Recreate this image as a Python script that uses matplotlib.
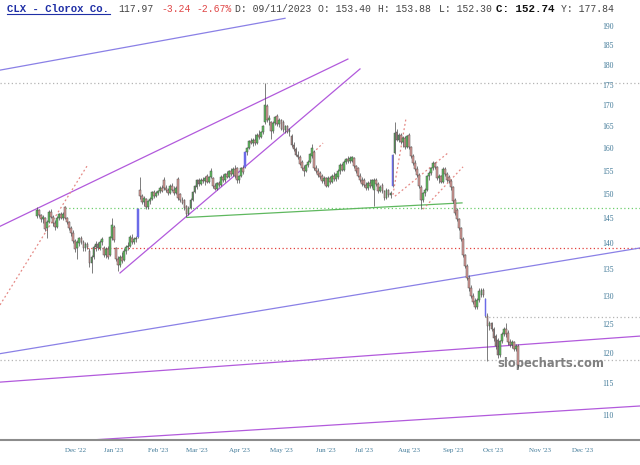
import numpy as np
import pandas as pd
import matplotlib
matplotlib.use("Agg")
import matplotlib.pyplot as plt
from matplotlib.lines import Line2D
from matplotlib.ticker import FixedLocator, FuncFormatter, NullLocator

# daily OHLC, one entry per trading day starting 2022-11-17
opens = [
    145.5, 146.8, 145.6, 144.8, 145.0, 143.0, 144.2, 146.4, 145.3, 144.0,
    143.2, 145.1, 145.9, 145.0, 147.3, 145.0, 144.2, 143.0, 142.0, 140.4,
    139.0, 140.0, 141.0, 140.3, 139.0, 139.8, 138.6, 136.2, 137.4, 139.2,
    139.8, 139.1, 140.2, 139.0, 137.8, 138.9, 137.8, 141.0, 143.2, 139.0,
    137.0, 135.9, 137.4, 136.8, 138.6, 139.3, 139.5, 141.0, 140.2, 140.9,
    141.2, 151.0, 149.6, 148.3, 149.0, 147.3, 148.5, 149.1, 150.4, 149.7,
    150.3, 150.6, 151.4, 153.0, 151.3, 151.0, 150.2, 151.8, 151.0, 150.3,
    153.3, 150.0, 148.7, 148.8, 147.5, 146.0, 147.2, 148.9, 150.5, 151.5,
    153.0, 152.2, 153.1, 152.8, 154.0, 152.6, 153.7, 153.4, 151.7, 151.2,
    152.4, 151.9, 153.8, 153.0, 154.3, 153.8, 155.0, 154.3, 155.4, 155.6,
    153.0, 153.9, 155.6, 155.8, 159.1, 160.1, 161.7, 161.2, 161.9, 161.3,
    163.1, 162.6, 163.7,
    166.0, 169.8, 166.5, 166.0, 164.0, 165.8, 167.5,
    165.6, 166.4, 166.0, 164.2, 165.0, 163.8, 162.8, 160.7, 159.8, 158.6,
    158.0, 156.9, 155.6, 155.0, 156.2, 157.0, 158.2, 159.3, 155.7, 155.0,
    154.5, 154.0, 152.8, 153.5, 151.8, 153.5, 152.6, 154.0, 153.2, 153.6,
    155.1, 156.3, 155.3, 156.9, 157.6, 157.1, 157.2, 157.8, 156.0, 155.6,
    154.0, 153.1, 153.0, 152.0, 151.3, 152.5, 151.7, 151.0, 153.0, 152.2,
    150.7, 152.0, 150.6, 149.3, 150.9, 149.8,
    151.7, 159.0, 163.8, 162.0,
    163.0, 161.5, 162.4, 160.3, 163.0, 160.2, 158.3, 156.8, 155.4, 154.1,
    151.5, 148.8, 150.2, 151.0, 153.9, 154.6, 155.6, 156.7, 155.8, 153.5,
    153.9, 152.7, 155.4, 154.3, 153.6, 152.8, 151.5, 148.9, 146.8, 144.8,
    143.0, 140.8, 137.8, 135.6, 133.4, 131.5, 130.1, 129.2, 128.0, 129.3,
    130.2, 131.1, 129.4, 126.5, 124.6, 125.1, 124.2, 122.9, 122.2, 119.6,
    122.0, 123.3, 124.2, 123.5, 121.8, 121.3, 121.8, 120.7, 121.2,
]
highs = [
    147.3, 147.0, 146.0, 145.6, 145.2, 144.6, 146.8, 146.9, 145.8, 144.6,
    145.4, 146.2, 146.3, 146.4, 147.6, 145.3, 144.5, 143.4, 142.7, 140.8,
    140.6, 141.3, 141.5, 140.6, 140.2, 140.3, 139.0, 137.8, 139.6, 140.4,
    140.3, 140.6, 141.3, 139.4, 139.3, 139.5, 141.5, 145.0, 143.6, 139.3,
    137.6, 137.8, 138.3, 139.0, 139.7, 140.2, 141.6, 141.8, 141.2, 141.5,
    147.2, 153.6, 150.0, 149.6, 149.3, 148.8, 149.5, 150.8, 150.9, 150.7,
    151.0, 151.8, 151.9, 153.6, 152.0, 151.3, 152.2, 152.3, 151.8, 151.7,
    153.8, 150.3, 149.5, 149.0, 147.8, 147.6, 149.2, 150.8, 152.0, 153.3,
    153.4, 153.4, 153.8, 153.9, 154.4, 154.0, 155.6, 153.8, 152.3, 152.6,
    152.9, 154.1, 154.3, 154.6, 155.1, 155.3, 155.6, 155.8, 156.2, 155.9,
    154.2, 155.9, 156.3, 159.4, 160.4, 162.0, 162.4, 162.3, 163.2, 163.4,
    164.3, 164.0, 165.4,
    175.5, 170.4, 167.6, 166.3, 166.2, 167.5, 168.0,
    167.0, 166.8, 166.5, 165.4, 165.3, 164.7, 163.2, 161.4, 160.3, 159.5,
    158.5, 157.4, 156.3, 156.6, 157.4, 159.0, 161.0, 159.6, 156.3, 155.6,
    155.0, 154.4, 153.9, 153.8, 153.9, 154.0, 154.3, 154.8, 154.6, 155.4,
    156.7, 156.8, 157.3, 157.9, 158.3, 158.2, 158.4, 158.1, 156.4, 155.9,
    154.5, 153.8, 153.4, 152.7, 152.8, 153.2, 153.3, 153.4, 153.5, 152.6,
    152.0, 152.4, 150.9, 151.3, 151.2, 150.7,
    158.7, 166.0, 164.5, 163.5,
    163.6, 162.8, 162.9, 163.0, 163.4, 160.6, 158.8, 157.3, 156.0, 154.6,
    152.0, 150.5, 151.4, 154.2, 155.0, 155.9, 157.2, 157.0, 156.1, 154.4,
    154.2, 155.8, 155.9, 154.7, 154.2, 153.2, 151.8, 149.3, 147.2, 145.0,
    143.3, 141.2, 138.0, 136.0, 133.9, 132.0, 130.6, 129.6, 129.6, 131.4,
    131.5, 131.4, 129.6, 127.0, 125.6, 125.4, 124.5, 123.3, 122.6, 122.3,
    123.6, 124.5, 125.2, 123.9, 122.4, 122.2, 122.0, 121.6, 121.5,
]
lows = [
    145.0, 145.2, 144.3, 144.0, 142.4, 141.0, 144.0, 145.0, 143.5, 142.6,
    143.0, 144.6, 144.8, 144.7, 144.8, 143.8, 142.6, 141.5, 140.0, 138.4,
    137.0, 139.4, 139.8, 138.5, 138.6, 138.9, 135.5, 134.2, 137.0, 138.6,
    138.7, 138.8, 139.6, 137.4, 137.2, 136.9, 137.5, 140.6, 140.2, 136.6,
    134.6, 135.4, 136.2, 136.6, 138.0, 138.8, 139.2, 139.9, 139.8, 140.3,
    141.0, 149.0, 147.9, 147.6, 146.9, 147.0, 148.0, 148.8, 149.3, 149.4,
    149.8, 150.2, 150.4, 151.0, 150.5, 149.9, 150.0, 150.7, 149.9, 150.0,
    148.8, 148.3, 147.9, 146.8, 145.3, 145.6, 146.9, 148.5, 150.2, 151.2,
    151.8, 152.0, 152.4, 151.9, 152.3, 152.4, 153.4, 151.4, 150.9, 151.0,
    151.5, 151.7, 152.6, 152.7, 153.4, 153.5, 153.9, 154.0, 153.5, 152.5,
    152.3, 153.6, 154.4, 155.6, 158.6, 159.8, 160.9, 160.6, 160.8, 161.1,
    162.2, 162.3, 163.3,
    165.6, 166.0, 165.4, 162.2, 163.6, 165.3, 165.2,
    164.8, 164.1, 163.8, 163.5, 163.4, 162.8, 160.3, 159.4, 158.2, 157.6,
    156.2, 155.2, 154.0, 154.7, 155.8, 156.7, 157.9, 155.3, 154.5, 153.7,
    153.2, 152.5, 152.2, 151.5, 151.6, 152.2, 152.3, 152.8, 152.9, 153.3,
    154.4, 154.9, 155.0, 156.5, 156.7, 156.8, 156.9, 155.7, 154.6, 153.6,
    152.7, 151.8, 151.6, 151.0, 151.0, 151.3, 151.4, 147.5, 151.8, 150.3,
    150.4, 150.2, 148.8, 149.0, 149.4, 149.2,
    151.5, 158.8, 161.6, 161.4,
    161.0, 160.2, 159.9, 160.0, 159.8, 157.9, 156.3, 155.0, 153.6, 151.3,
    147.0, 148.4, 149.6, 150.7, 153.0, 154.2, 155.2, 155.4, 153.1, 152.5,
    152.3, 152.4, 153.9, 152.6, 152.4, 151.0, 148.2, 145.7, 144.4, 142.6,
    140.4, 137.4, 135.2, 132.9, 131.0, 129.6, 128.6, 127.6, 127.7, 129.0,
    129.8, 129.8, 126.2, 118.6, 124.0, 123.8, 122.1, 120.7, 119.2, 119.3,
    121.7, 122.9, 122.8, 121.4, 121.0, 120.8, 120.3, 120.4, 117.5,
]
closes = [
    146.8, 145.6, 144.8, 145.2, 142.9, 144.2, 146.4, 145.3, 144.0, 143.2,
    145.1, 145.9, 145.0, 146.0, 145.0, 144.2, 143.0, 142.0, 140.4, 138.9,
    140.2, 141.0, 140.3, 139.0, 139.8, 139.3, 136.2, 137.4, 139.2, 139.8,
    139.1, 140.2, 140.8, 137.8, 138.9, 137.3, 141.2, 143.6, 140.6, 137.0,
    135.9, 137.4, 136.6, 138.6, 139.3, 139.5, 141.3, 140.2, 140.9, 141.1,
    147.0, 149.6, 148.3, 149.2, 147.3, 148.5, 149.1, 150.4, 149.7, 150.3,
    150.6, 151.4, 150.8, 151.3, 151.0, 150.2, 151.8, 151.0, 150.3, 151.4,
    149.3, 148.7, 148.2, 147.1, 146.0, 147.2, 148.9, 150.5, 151.7, 153.0,
    152.2, 153.1, 152.8, 153.5, 152.6, 153.7, 154.9, 151.7, 151.2, 152.4,
    151.9, 153.8, 153.0, 154.3, 153.8, 155.0, 154.3, 155.4, 153.9, 153.0,
    153.9, 155.6, 154.8, 159.1, 160.1, 161.7, 161.2, 161.9, 161.3, 163.1,
    162.6, 163.7, 165.1,
    170.0, 166.5, 167.0, 164.0, 165.8, 167.1, 165.6,
    166.4, 164.5, 164.2, 165.0, 163.8, 164.2, 160.7, 159.8, 158.6, 158.0,
    156.6, 155.6, 155.0, 156.2, 157.0, 158.7, 160.0, 155.7, 155.0, 154.1,
    153.6, 152.8, 153.5, 151.8, 153.5, 152.6, 154.0, 153.2, 154.3, 155.1,
    156.3, 155.3, 156.9, 157.6, 157.1, 157.9, 158.1, 156.0, 155.0, 154.0,
    153.1, 152.2, 152.0, 151.3, 152.5, 151.7, 153.0, 153.0, 152.2, 150.7,
    151.6, 150.6, 149.3, 150.9, 149.8, 150.3,
    158.5, 163.5, 162.0, 163.0,
    161.5, 162.4, 160.3, 162.8, 160.2, 158.3, 156.8, 155.4, 154.1, 151.8,
    148.8, 150.2, 151.0, 153.9, 154.6, 155.6, 156.7, 155.8, 153.5, 153.9,
    152.7, 155.4, 154.3, 153.0, 152.8, 151.5, 148.6, 146.2, 144.8, 143.0,
    140.8, 137.8, 135.6, 133.4, 131.5, 130.1, 129.0, 128.0, 129.3, 131.0,
    131.1, 130.2, 126.4, 124.6, 125.1, 124.2, 122.5, 121.2, 119.6, 122.0,
    123.3, 124.2, 123.2, 121.8, 121.3, 121.8, 120.7, 121.21, 117.97,
]

# gap days shown as blue candles (trading-day index)
gap_days = [50, 103, 176, 222]

holidays = ["2022-11-24", "2022-12-26", "2023-01-02", "2023-01-16", "2023-02-20",
            "2023-04-07", "2023-05-29", "2023-06-19", "2023-07-04", "2023-09-04",
            "2023-11-23", "2023-12-25"]

price_ticks = list(range(110, 195, 5))

# horizontal levels: (price, first trading-day index or None for whole chart)
gray_levels = [(175.4, None), (126.3, 222), (118.8, None)]
green_levels = [(147.2, 14)]
red_levels = [(139.0, 24.6)]

# drawn lines: (day index, price) -> (day index, price)
lavender_lines = [(-18.3, 178.6, 122.8, 192.1), (-18.3, 119.9, 298.5, 139.1)]
violet_lines = [(-18.3, 143.4, 153.9, 181.4), (41.1, 134.3, 159.9, 178.9),
                (-18.3, 115.2, 298.5, 122.9), (21.3, 106.1, 298.5, 111.4)]
green_lines = [(74.3, 145.2, 210.4, 148.2)]
red_dotted_lines = [(-18.3, 128.4, 24.8, 156.1), (136.7, 159.0, 141.6, 161.2),
                    (176.2, 149.9, 182.7, 167.0), (177.2, 149.6, 203.5, 159.0),
                    (191.1, 146.9, 210.9, 155.9)]

assert len(opens) == len(highs) == len(lows) == len(closes)

days = pd.bdate_range("2022-11-17", "2023-12-29", freq="C", holidays=holidays)
months = pd.date_range("2022-12-01", "2023-12-01", freq="MS") + pd.Timedelta(days=14)
month_pos = [days.searchsorted(m, side="right") - 1 for m in months]
month_labels = [m.strftime("%b '%y") for m in months]

XMIN, XMAX = -18.3, 298.5

fig = plt.figure(figsize=(6.4, 4.65), dpi=100)
ax = fig.add_axes([0, 25 / 465, 1, 440 / 465])
ax.set_yscale("log")
ax.set_xlim(XMIN, XMAX)
ax.set_ylim(106.2, 197.1)

# levels
for lv, col in ((gray_levels, "#b4b4b4"), (green_levels, "#6ccf6c"), (red_levels, "#e2403c")):
    for price, start in lv:
        ax.hlines(price, XMIN if start is None else start, XMAX, colors=col,
                  linestyles=(0, (1, 2)), lw=0.9, zorder=1)

for lines, col, ls in ((lavender_lines, "#8a80e6", "-"), (violet_lines, "#b25adc", "-"),
                       (green_lines, "#5fb85f", "-"), (red_dotted_lines, "#e58a86", (0, (1.5, 2)))):
    for x0, p0, x1, p1 in lines:
        ax.plot([x0, x1], [p0, p1], color=col, lw=0.9, ls=ls, zorder=2)

# watermark
ax.text(551 / 640, (440 - 363) / 440, "slopecharts.com", transform=ax.transAxes,
        ha="center", va="center", fontsize=8.3, fontweight="bold", color="#808080",
        family="DejaVu Sans", zorder=2)

# candles
o = np.array(opens)
h = np.array(highs)
l = np.array(lows)
c = np.array(closes)
x = np.arange(len(c))
face = np.where(c >= o, "#5fc25f", "#dc9c98").astype(object)
edge = np.full(len(c), "#4a4a4a", dtype=object)
for i in gap_days:
    face[i] = "#6b6be8"
    edge[i] = "#6b6be8"
ax.vlines(x, l, h, colors="#4a4a4a", lw=0.5, zorder=3)
ax.bar(x, np.abs(c - o), bottom=np.minimum(o, c), width=0.9, color=list(face),
       edgecolor=list(edge), linewidth=0.35, zorder=4)

# axes styling
for side in ("top", "left", "right"):
    ax.spines[side].set_visible(False)
ax.spines["bottom"].set_color("#8c8c8c")
ax.spines["bottom"].set_linewidth(1.5)

ax.yaxis.tick_right()
ax.yaxis.set_major_locator(FixedLocator(price_ticks))
ax.yaxis.set_minor_locator(NullLocator())
ax.yaxis.set_major_formatter(FuncFormatter(lambda v, p: f"{v:.0f}"))
ax.tick_params(axis="y", length=0, pad=-27.5, labelsize=5.5, labelcolor="#3f7897",
               labelfontfamily="Liberation Serif")
ax.set_xticks(month_pos, month_labels)
ax.tick_params(axis="x", length=0, pad=6, labelsize=5, labelcolor="#3f7897",
               labelfontfamily="Liberation Serif")

# header
ty = 1 - 8.5 / 465
mono = "Liberation Mono"
fig.text(7 / 640, ty, "CLX - Clorox Co.", family=mono, fontsize=7.7, fontweight="bold",
         color="#1f2fa6", va="center")
fig.add_artist(Line2D([7 / 640, 110 / 640], [1 - 14 / 465] * 2, color="#1f2fa6", lw=0.8,
                      transform=fig.transFigure))
header = [("117.97", 118, "#444444", "normal"), ("-3.24", 161, "#e04848", "normal"),
          ("-2.67%", 196, "#e04848", "normal"), ("D: 09/11/2023", 235, "#444444", "normal"),
          ("O: 153.40", 318, "#444444", "normal"), ("H: 153.88", 378, "#444444", "normal"),
          ("L: 152.30", 439, "#444444", "normal"), ("C: 152.74", 496, "#111111", "bold"),
          ("Y: 177.84", 561, "#444444", "normal")]
for txt, px, col, wt in header:
    fig.text(px / 640, ty, txt, family=mono, fontsize=7.8 if wt == "bold" else 7,
             fontweight=wt, color=col, va="center")

fig.savefig("out.png", dpi=100)
